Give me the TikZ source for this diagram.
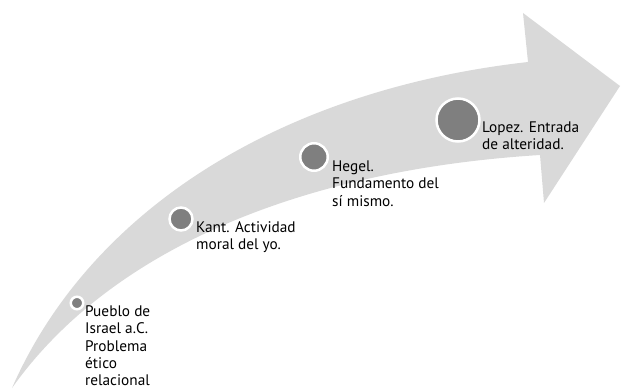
\documentclass[tikz,border=0pt]{standalone}
\usepackage{fontspec}
\setmainfont{PT Sans}
\definecolor{arrowgray}{HTML}{D9D9D9}
\definecolor{dotgray}{HTML}{7F7F7F}
\begin{document}
\begin{tikzpicture}[x=1pt,y=-1pt,
  dot/.style={circle,fill=dotgray,draw=white,line width=2.5pt,inner sep=0pt},
  lbl/.style={anchor=north west,inner sep=0pt,align=left,
    font=\fontsize{15.3}{17.3}\selectfont}]
\useasboundingbox (0,0) rectangle (621,390);
% big curved arrow
\fill[arrowgray] (12,388) .. controls (90,210) and (280,90) .. (528,62)
  -- (523,13) -- (620,86) -- (544,203) -- (540,155)
  .. controls (300,170) and (110,250) .. (12,388) -- cycle;
% milestones
\node[dot,minimum size=12.5pt] (d1) at (77,303) {};
\node[dot,minimum size=23pt] (d2) at (181,219) {};
\node[dot,minimum size=27.5pt] (d3) at (314,157) {};
\node[dot,minimum size=43pt] (d4) at (458,120) {};
% labels
\node[lbl] (t1) at (85,305.5) {Pueblo de\\Israel a.C.\\Problema\\ético\\relacional};
\node[lbl] (t2) at (196,221.5) {Kant. Actividad\\moral del yo.};
\node[lbl] (t3) at (332,160.5) {Hegel.\\Fundamento del\\sí mismo.};
\node[lbl] (t4) at (482,121.5) {Lopez. Entrada\\de alteridad.};
\end{tikzpicture}
\end{document}
